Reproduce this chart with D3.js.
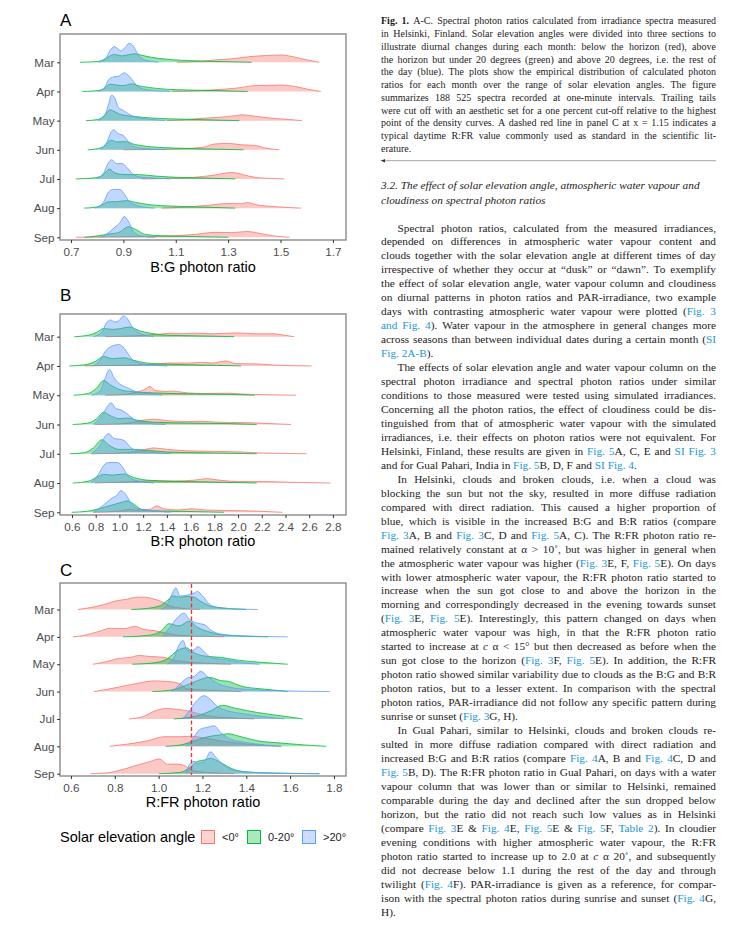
<!DOCTYPE html>
<html><head><meta charset="utf-8">
<script src="https://cdn.jsdelivr.net/npm/d3@7"></script>
<style>body{margin:0;background:#fff}</style>
</head><body>
<svg id="c" width="737" height="948" xmlns="http://www.w3.org/2000/svg"></svg>
<script>
// ---------------- DATA ----------------
const months = ["Mar","Apr","May","Jun","Jul","Aug","Sep"];
const groups = ["<0°","0-20°",">20°"];
const legendTitle = "Solar elevation angle";
const panelLabels = ["A","B","C"];
const axisTitles = ["B:G photon ratio","B:R photon ratio","R:FR photon ratio"];
const ticksA = [0.7,0.9,1.1,1.3,1.5,1.7];
const ticksB = [0.6,0.8,1.0,1.2,1.4,1.6,1.8,2.0,2.2,2.4,2.6,2.8];
const ticksC = [0.6,0.8,1.0,1.2,1.4,1.6,1.8];
const refRFR = 1.15;
// densities: [ratio, scaled density] per month (Mar..Sep)
const bgBelow0 = [
 [[1.104,0],[1.148,.01],[1.2,.04],[1.25,.08],[1.314,.12],[1.378,.19],[1.441,.23],[1.505,.25],[1.531,.22],[1.569,.15],[1.607,.07],[1.648,0]],
 [[1.085,0],[1.174,.02],[1.25,.06],[1.327,.11],[1.403,.2],[1.454,.21],[1.505,.22],[1.556,.17],[1.607,.07],[1.654,0]],
 [[1.066,0],[1.148,.04],[1.2,.08],[1.276,.12],[1.327,.17],[1.352,.2],[1.403,.15],[1.48,.07],[1.531,.04],[1.582,0]],
 [[0.9,0],[1.021,.01],[1.123,.04],[1.2,.08],[1.25,.2],[1.301,.22],[1.352,.17],[1.403,.15],[1.441,.06],[1.496,0]],
 [[0.97,0],[1.085,.02],[1.174,.06],[1.238,.12],[1.314,.22],[1.333,.2],[1.378,.1],[1.416,.04],[1.454,.02],[1.515,0]],
 [[1.046,0],[1.148,.04],[1.225,.1],[1.301,.16],[1.352,.15],[1.371,.19],[1.416,.1],[1.48,.05],[1.578,0]],
 [[0.718,0],[0.792,.01],[0.957,.02],[1.085,.05],[1.174,.1],[1.25,.17],[1.314,.16],[1.371,.2],[1.429,.12],[1.48,.04],[1.534,0]]
];
const bg0to20 = [
 [[0.734,0],[0.804,.03],[0.83,.12],[0.849,.22],[0.866,.27],[0.894,.22],[0.919,.26],[0.945,.29],[0.97,.24],[1.008,.17],[1.059,.11],[1.123,.07],[1.2,.04],[1.301,.02],[1.39,0]],
 [[0.743,0],[0.804,.03],[0.83,.12],[0.849,.25],[0.875,.22],[0.9,.2],[0.932,.26],[0.957,.2],[0.996,.14],[1.059,.08],[1.148,.05],[1.25,.03],[1.375,0]],
 [[0.757,0],[0.804,.04],[0.83,.2],[0.849,.37],[0.868,.3],[0.894,.2],[0.945,.14],[1.008,.09],[1.085,.06],[1.174,.04],[1.25,.02],[1.343,0]],
 [[0.764,0],[0.804,.04],[0.83,.15],[0.852,.33],[0.875,.27],[0.906,.28],[0.945,.18],[1.008,.1],[1.097,.06],[1.212,.03],[1.359,0]],
 [[0.718,0],[0.792,.04],[0.824,.15],[0.847,.34],[0.868,.2],[0.906,.15],[0.957,.15],[1.021,.1],[1.123,.05],[1.212,.03],[1.327,0]],
 [[0.75,0],[0.798,.04],[0.824,.14],[0.843,.22],[0.875,.22],[0.913,.26],[0.945,.2],[1.008,.11],[1.085,.07],[1.187,.04],[1.327,0]],
 [[0.751,0],[0.804,.05],[0.849,.12],[0.881,.16],[0.919,.36],[0.945,.28],[0.983,.1],[1.046,.05],[1.148,.03],[1.301,0]]
];
const bgAbove20 = [
 [[0.804,0],[0.83,.1],[0.849,.4],[0.866,.54],[0.881,.45],[0.89,.39],[0.906,.5],[0.922,.65],[0.938,.55],[0.957,.25],[0.976,.1],[1.002,.04],[1.034,0]],
 [[0.804,0],[0.83,.15],[0.843,.4],[0.862,.5],[0.881,.52],[0.904,.64],[0.919,.55],[0.938,.35],[0.957,.15],[0.996,.05],[1.078,0]],
 [[0.804,0],[0.83,.2],[0.843,.55],[0.855,.87],[0.866,.8],[0.881,.45],[0.9,.35],[0.925,.2],[0.957,.1],[1.008,.04],[1.059,0]],
 [[0.811,0],[0.836,.25],[0.853,.6],[0.862,.69],[0.881,.55],[0.9,.49],[0.913,.35],[0.938,.12],[0.97,.05],[1.008,.03],[1.059,0]],
 [[0.798,0],[0.824,.2],[0.843,.55],[0.855,.66],[0.875,.52],[0.894,.53],[0.913,.4],[0.938,.15],[0.97,.06],[1.021,.03],[1.078,0]],
 [[0.792,0],[0.824,.2],[0.843,.55],[0.862,.64],[0.887,.64],[0.906,.45],[0.925,.2],[0.957,.08],[1.018,0]],
 [[0.817,0],[0.849,.2],[0.868,.35],[0.887,.5],[0.903,.71],[0.919,.55],[0.938,.2],[0.957,.08],[0.989,.02],[1.021,0]]
];
const brBelow0 = [
 [[0.881,0],[1.142,.03],[1.258,.06],[1.374,.1],[1.432,.12],[1.519,.1],[1.635,.12],[1.78,.1],[1.997,.13],[2.157,.1],[2.301,.1],[2.39,.05],[2.475,0]],
 [[0.707,0],[0.997,.02],[1.287,.05],[1.403,.1],[1.577,.1],[1.693,.12],[1.78,.1],[1.896,.17],[1.983,.08],[2.157,.07],[2.301,.03],[2.62,0]],
 [[0.881,0],[1.055,.03],[1.142,.1],[1.214,.2],[1.258,.3],[1.301,.16],[1.403,.13],[1.446,.14],[1.577,.08],[1.722,.06],[1.925,.07],[2.041,.04],[2.214,.02],[2.49,0]],
 [[0.794,0],[0.997,.02],[1.113,.07],[1.2,.15],[1.287,.18],[1.403,.13],[1.577,.1],[1.693,.11],[1.809,.08],[1.925,.07],[2.099,.06],[2.272,.03],[2.446,0]],
 [[0.765,0],[0.997,.02],[1.142,.08],[1.229,.16],[1.287,.2],[1.403,.15],[1.577,.1],[1.809,.08],[2.041,.06],[2.214,.02],[2.388,.01],[2.577,0]],
 [[0.794,0],[0.91,.02],[1.142,.05],[1.287,.08],[1.461,.07],[1.635,.1],[1.736,.15],[1.838,.1],[2.012,.05],[2.214,.05],[2.39,.03],[2.78,0]],
 [[0.78,0],[0.997,.04],[1.084,.1],[1.128,.08],[1.258,.1],[1.316,.22],[1.374,.12],[1.49,.08],[1.606,.12],[1.722,.08],[1.925,.06],[2.157,.04],[2.374,0]]
];
const br0to20 = [
 [[0.62,0],[0.736,.05],[0.809,.15],[0.867,.28],[0.939,.25],[1.012,.28],[1.084,.33],[1.171,.2],[1.258,.12],[1.403,.05],[1.635,.03],[1.968,0]],
 [[0.577,0],[0.707,.04],[0.794,.15],[0.867,.32],[0.939,.25],[1.041,.28],[1.113,.2],[1.229,.1],[1.403,.06],[1.722,.03],[2.026,0]],
 [[0.612,0],[0.736,.06],[0.809,.25],[0.867,.5],[0.925,.35],[0.997,.2],[1.113,.12],[1.287,.08],[1.577,.05],[1.925,.03],[2.142,0]],
 [[0.606,0],[0.736,.05],[0.809,.2],[0.867,.42],[0.925,.3],[0.997,.2],[1.07,.22],[1.142,.15],[1.287,.08],[1.577,.05],[1.925,.03],[2.157,0]],
 [[0.583,0],[0.707,.04],[0.78,.2],[0.852,.48],[0.91,.3],[0.997,.15],[1.113,.15],[1.229,.12],[1.403,.06],[1.722,.03],[2.157,0]],
 [[0.606,0],[0.736,.06],[0.809,.2],[0.867,.3],[0.939,.27],[1.041,.31],[1.113,.2],[1.229,.1],[1.432,.06],[1.722,.04],[2.157,0]],
 [[0.597,0],[0.736,.04],[0.852,.15],[0.939,.25],[1.026,.35],[1.061,.39],[1.113,.3],[1.186,.1],[1.287,.05],[1.577,.03],[1.881,0]]
];
const brAbove20 = [
 [[0.78,0],[0.852,.15],[0.887,.45],[0.925,.57],[0.962,.5],[0.997,.55],[1.032,.71],[1.07,.6],[1.113,.3],[1.157,.15],[1.214,.06],[1.287,0]],
 [[0.78,0],[0.838,.2],[0.881,.5],[0.939,.68],[0.997,.73],[1.041,.6],[1.084,.35],[1.128,.15],[1.229,.05],[1.403,0]],
 [[0.765,0],[0.838,.15],[0.881,.6],[0.916,.88],[0.954,.6],[0.997,.4],[1.07,.25],[1.142,.12],[1.258,.05],[1.359,0]],
 [[0.78,0],[0.852,.3],[0.896,.6],[0.93,.74],[0.968,.55],[1.012,.5],[1.055,.4],[1.113,.2],[1.2,.06],[1.388,0]],
 [[0.765,0],[0.838,.3],[0.881,.6],[0.91,.69],[0.954,.52],[0.997,.5],[1.041,.45],[1.099,.2],[1.171,.1],[1.432,0]],
 [[0.759,0],[0.823,.3],[0.867,.6],[0.91,.7],[0.983,.7],[1.026,.55],[1.07,.25],[1.128,.1],[1.287,0]],
 [[0.78,0],[0.852,.2],[0.925,.45],[0.983,.6],[1.012,.74],[1.055,.6],[1.099,.3],[1.157,.12],[1.258,.06],[1.432,0]]
];
const rfrBelow0 = [
 [[0.631,0],[0.689,.07],[0.75,.18],[0.803,.31],[0.856,.38],[0.902,.45],[0.933,.45],[0.979,.38],[1.009,.3],[1.055,.12],[1.101,.05],[1.188,0]],
 [[0.609,0],[0.658,.05],[0.719,.18],[0.78,.31],[0.841,.3],[0.895,.38],[0.933,.27],[0.979,.23],[1.024,.15],[1.101,.05],[1.208,.02],[1.299,0]],
 [[0.701,0],[0.765,.1],[0.811,.2],[0.872,.25],[0.91,.32],[0.963,.28],[1.024,.25],[1.07,.15],[1.131,.08],[1.208,.04],[1.33,0]],
 [[0.704,0],[0.765,.08],[0.826,.18],[0.902,.3],[0.979,.39],[1.04,.37],[1.093,.3],[1.131,.1],[1.208,.06],[1.284,.03],[1.376,0]],
 [[0.864,0],[0.933,.1],[0.979,.28],[1.032,.38],[1.086,.35],[1.131,.3],[1.177,.2],[1.238,.1],[1.33,.04],[1.437,0]],
 [[0.777,0],[0.856,.08],[0.948,.2],[1.024,.35],[1.101,.35],[1.147,.37],[1.208,.3],[1.284,.2],[1.376,.1],[1.467,.04],[1.559,0]],
 [[0.689,0],[0.765,.03],[0.856,.2],[0.918,.35],[0.963,.45],[1.002,.54],[1.04,.35],[1.086,.35],[1.116,.3],[1.162,.1],[1.238,.04],[1.345,0]]
];
const rfr0to20 = [
 [[0.875,0],[0.948,.04],[1.009,.15],[1.047,.38],[1.063,.5],[1.101,.45],[1.131,.48],[1.162,.45],[1.192,.3],[1.238,.12],[1.284,.06],[1.398,0]],
 [[0.837,0],[0.948,.05],[1.009,.2],[1.047,.48],[1.093,.4],[1.139,.57],[1.177,.35],[1.223,.2],[1.284,.08],[1.376,.03],[1.498,0]],
 [[0.879,0],[0.979,.05],[1.04,.2],[1.086,.5],[1.127,.6],[1.154,.45],[1.208,.3],[1.284,.25],[1.36,.15],[1.467,.07],[1.589,0]],
 [[0.971,0],[1.055,.05],[1.116,.2],[1.177,.4],[1.231,.52],[1.284,.4],[1.315,.38],[1.376,.2],[1.467,.1],[1.559,.03],[1.589,0]],
 [[1.07,0],[1.131,.05],[1.192,.15],[1.238,.3],[1.292,.5],[1.345,.4],[1.406,.3],[1.498,.18],[1.589,.08],[1.658,0]],
 [[1.032,0],[1.101,.05],[1.162,.2],[1.223,.35],[1.284,.42],[1.315,.46],[1.376,.35],[1.452,.2],[1.559,.12],[1.666,.05],[1.765,0]],
 [[1.002,0],[1.101,.05],[1.139,.2],[1.177,.45],[1.208,.5],[1.238,.56],[1.284,.4],[1.345,.15],[1.406,.06],[1.513,.02],[1.734,0]]
];
const rfrAbove20 = [
 [[1.012,0],[1.04,.2],[1.063,.6],[1.078,.79],[1.098,.5],[1.116,.5],[1.139,.55],[1.162,.6],[1.177,.66],[1.2,.5],[1.231,.2],[1.269,.08],[1.345,.03],[1.452,0]],
 [[1.017,0],[1.047,.3],[1.086,.7],[1.116,.87],[1.139,.65],[1.177,.5],[1.208,.45],[1.238,.25],[1.284,.1],[1.376,.04],[1.589,0]],
 [[1.04,0],[1.07,.25],[1.093,.7],[1.111,.87],[1.131,.5],[1.154,.5],[1.18,.64],[1.208,.45],[1.238,.25],[1.315,.15],[1.391,.05],[1.46,0]],
 [[1.063,0],[1.101,.3],[1.131,.5],[1.162,.55],[1.192,.74],[1.223,.55],[1.269,.3],[1.33,.15],[1.406,.08],[1.559,.03],[1.78,0]],
 [[1.108,0],[1.131,.2],[1.162,.55],[1.208,.85],[1.238,.7],[1.269,.45],[1.315,.3],[1.376,.2],[1.467,.1],[1.574,0]],
 [[1.124,0],[1.154,.25],[1.185,.6],[1.223,.7],[1.253,.75],[1.284,.5],[1.33,.25],[1.391,.15],[1.483,.05],[1.559,0]],
 [[1.124,0],[1.147,.4],[1.162,.45],[1.18,.38],[1.208,.45],[1.238,.8],[1.261,.6],[1.299,.3],[1.36,.1],[1.467,.04],[1.734,0]]
];

// ---------------- TEXT ----------------
// markup: {..}=link colour, *..*=bold, _.._=italic
const captionLines = [
 "*Fig. 1.* A-C. Spectral photon ratios calculated from irradiance spectra measured",
 "in Helsinki, Finland. Solar elevation angles were divided into three sections to",
 "illustrate diurnal changes during each month: below the horizon (red), above",
 "the horizon but under 20 degrees (green) and above 20 degrees, i.e. the rest of",
 "the day (blue). The plots show the empirical distribution of calculated photon",
 "ratios for each month over the range of solar elevation angles. The figure",
 "summarizes 188 525 spectra recorded at one-minute intervals. Trailing tails",
 "were cut off with an aesthetic set for a one percent cut-off relative to the highest",
 "point of the density curves. A dashed red line in panel C at x = 1.15 indicates a",
 "typical daytime R:FR value commonly used as standard in the scientific lit-",
 "erature."
];
const headingLines = [
 "3.2. The effect of solar elevation angle, atmospheric water vapour and",
 "cloudiness on spectral photon ratios"
];
const bodyParagraphs = [
 ["Spectral photon ratios, calculated from the measured irradiances,",
  "depended on differences in atmospheric water vapour content and",
  "clouds together with the solar elevation angle at different times of day",
  "irrespective of whether they occur at \u201cdusk\u201d or \u201cdawn\u201d. To exemplify",
  "the effect of solar elevation angle, water vapour column and cloudiness",
  "on diurnal patterns in photon ratios and PAR-irradiance, two example",
  "days with contrasting atmospheric water vapour were plotted ({Fig. 3}",
  "{and Fig. 4}). Water vapour in the atmosphere in general changes more",
  "across seasons than between individual dates during a certain month ({SI}",
  "{Fig. 2A-B})."],
 ["The effects of solar elevation angle and water vapour column on the",
  "spectral photon irradiance and spectral photon ratios under similar",
  "conditions to those measured were tested using simulated irradiances.",
  "Concerning all the photon ratios, the effect of cloudiness could be dis-",
  "tinguished from that of atmospheric water vapour with the simulated",
  "irradiances, i.e. their effects on photon ratios were not equivalent. For",
  "Helsinki, Finland, these results are given in {Fig. 5}A, C, E and {SI Fig. 3}",
  "and for Gual Pahari, India in {Fig. 5}B, D, F and {SI Fig. 4}."],
 ["In Helsinki, clouds and broken clouds, i.e. when a cloud was",
  "blocking the sun but not the sky, resulted in more diffuse radiation",
  "compared with direct radiation. This caused a higher proportion of",
  "blue, which is visible in the increased B:G and B:R ratios (compare",
  "{Fig. 3}A, B and {Fig. 3}C, D and {Fig. 5}A, C). The R:FR photon ratio re-",
  "mained relatively constant at \u03b1 > 10\u02da, but was higher in general when",
  "the atmospheric water vapour was higher ({Fig. 3}E, F, {Fig. 5}E). On days",
  "with lower atmospheric water vapour, the R:FR photon ratio started to",
  "increase when the sun got close to and above the horizon in the",
  "morning and correspondingly decreased in the evening towards sunset",
  "({Fig. 3}E, {Fig. 5}E). Interestingly, this pattern changed on days when",
  "atmospheric water vapour was high, in that the R:FR photon ratio",
  "started to increase at _c_ \u03b1 < 15\u00b0 but then decreased as before when the",
  "sun got close to the horizon ({Fig. 3}F, {Fig. 5}E). In addition, the R:FR",
  "photon ratio showed similar variability due to clouds as the B:G and B:R",
  "photon ratios, but to a lesser extent. In comparison with the spectral",
  "photon ratios, PAR-irradiance did not follow any specific pattern during",
  "sunrise or sunset ({Fig. 3}G, H)."],
 ["In Gual Pahari, similar to Helsinki, clouds and broken clouds re-",
  "sulted in more diffuse radiation compared with direct radiation and",
  "increased B:G and B:R ratios (compare {Fig. 4}A, B and {Fig. 4}C, D and",
  "{Fig. 5}B, D). The R:FR photon ratio in Gual Pahari, on days with a water",
  "vapour column that was lower than or similar to Helsinki, remained",
  "comparable during the day and declined after the sun dropped below",
  "horizon, but the ratio did not reach such low values as in Helsinki",
  "(compare {Fig. 3}E & {Fig. 4}E, {Fig. 5}E & {Fig. 5}F, {Table 2}). In cloudier",
  "evening conditions with higher atmospheric water vapour, the R:FR",
  "photon ratio started to increase up to 2.0 at _c_ \u03b1 20\u02da, and subsequently",
  "did not decrease below 1.1 during the rest of the day and through",
  "twilight ({Fig. 4}F). PAR-irradiance is given as a reference, for compar-",
  "ison with the spectral photon ratios during sunrise and sunset ({Fig. 4}G,",
  "H)."]
];

// ---------------- DRAW ----------------
const svg = d3.select("#c");
const colors = ["#F8766D","#00BA38","#619CFF"];
const refColor = "#FF2B2B";
const sans = "'Liberation Sans', Arial, sans-serif";
const serif = "'Liberation Serif', 'Times New Roman', serif";
const plotL = 60, plotR = 346;
const fillOp = 0.4;

const panels = [
 {label:panelLabels[0], title:axisTitles[0], ticks:ticksA, series:[bgBelow0,bg0to20,bgAbove20],
  xDomain:[0.658,1.750], top:34, bottom:240, firstRow:62.3, lastRow:237.3, labelY:26, titleY:272},
 {label:panelLabels[1], title:axisTitles[1], ticks:ticksB, series:[brBelow0,br0to20,brAbove20],
  xDomain:[0.499,2.91], top:314, bottom:515, firstRow:336.7, lastRow:512.3, labelY:301, titleY:545.5},
 {label:panelLabels[2], title:axisTitles[2], ticks:ticksC, series:[rfrBelow0,rfr0to20,rfrAbove20],
  xDomain:[0.55,1.855], top:583, bottom:776, firstRow:609.5, lastRow:773.7, labelY:576, titleY:806.5, ref:refRFR}
];

panels.forEach((p,pi)=>{
  const x = d3.scaleLinear().domain(p.xDomain).range([plotL,plotR]);
  const yRow = d3.scalePoint().domain(months).range([p.firstRow,p.lastRow]);
  const hScale = d3.scaleLinear().domain([0,1]).range([0,(p.lastRow-p.firstRow)/(months.length-1)]);
  const clipId = "clip"+pi;
  svg.append("clipPath").attr("id",clipId).append("rect")
    .attr("x",plotL).attr("y",p.top).attr("width",plotR-plotL).attr("height",p.bottom-p.top);
  const g = svg.append("g").attr("clip-path",`url(#${clipId})`);
  months.forEach((m,mi)=>{
    const base = yRow(m);
    p.series.forEach((s,k)=>{
      const pts = s[mi];
      const area = d3.area().x(d=>x(d[0])).y0(base).y1(d=>base-hScale(d[1])).curve(d3.curveMonotoneX);
      const line = d3.line().x(d=>x(d[0])).y(d=>base-hScale(d[1])).curve(d3.curveMonotoneX);
      g.append("path").attr("d",area(pts)).attr("fill",colors[k]).attr("fill-opacity",fillOp);
      g.append("path").attr("d",line(pts)).attr("fill","none").attr("stroke",colors[k]).attr("stroke-width",0.8);
    });
  });
  // border
  svg.append("rect").attr("x",plotL).attr("y",p.top).attr("width",plotR-plotL).attr("height",p.bottom-p.top)
    .attr("fill","none").attr("stroke","#8a8a8a").attr("stroke-width",1.4);
  if (p.ref !== undefined) {
    const xr = Math.round(x(p.ref)) + 0.5;
    svg.append("path").attr("d",`M${xr},${p.top+1}V${p.bottom-1}`)
      .style("stroke",refColor).style("stroke-width","1.3px").style("stroke-dasharray","4,2.5").style("fill","none");
  }
  // x axis
  const xa = svg.append("g").attr("transform",`translate(0,${p.bottom})`)
    .call(d3.axisBottom(x).tickValues(p.ticks).tickFormat(d3.format(".1f")).tickSize(3).tickPadding(4.5));
  xa.select(".domain").remove();
  xa.selectAll(".tick line").attr("stroke","#333").attr("stroke-width",1);
  xa.selectAll(".tick text").attr("fill","#4d4d4d").style("font-family",sans).style("font-size","11.7px");
  // y axis
  const ya = svg.append("g").attr("transform",`translate(${plotL},0)`)
    .call(d3.axisLeft(yRow).tickSize(3).tickPadding(2.5));
  ya.select(".domain").remove();
  ya.selectAll(".tick line").attr("stroke","#333").attr("stroke-width",1);
  ya.selectAll(".tick text").attr("fill","#4d4d4d").style("font-family",sans).style("font-size","11.7px");
  // labels
  svg.append("text").attr("x",plotL).attr("y",p.labelY).text(p.label)
    .style("font-family",sans).style("font-size","17px").attr("fill","#000");
  svg.append("text").attr("x",(plotL+plotR)/2).attr("y",p.titleY).attr("text-anchor","middle").text(p.title)
    .style("font-family",sans).style("font-size","14.5px").attr("fill","#000");
});

// legend
const lg = svg.append("g");
lg.append("text").attr("x",60).attr("y",841.5).text(legendTitle)
  .style("font-family",sans).style("font-size","14.5px");
const legX = [201,247,302];
groups.forEach((gname,k)=>{
  lg.append("rect").attr("x",legX[k]+0.5).attr("y",830.5).attr("width",13).attr("height",13)
    .attr("fill",colors[k]).attr("fill-opacity",0.33).attr("stroke",colors[k]).attr("stroke-width",1);
  lg.append("text").attr("x",legX[k]+21).attr("y",840.5).text(gname)
    .style("font-family",sans).style("font-size","11px").attr("fill","#222");
});

// ---------- text column ----------
const colL = 381, colR = 716;
function parseRuns(str){
  const runs=[]; let st={link:false,bold:false,ital:false}; let buf="";
  for (const ch of str){
    if (ch==="{"||ch==="}"||ch==="*"||ch==="_"){
      if(buf){runs.push({t:buf,...st});buf="";}
      if(ch==="{")st={...st,link:true}; else if(ch==="}")st={...st,link:false};
      else if(ch==="*")st={...st,bold:!st.bold}; else st={...st,ital:!st.ital};
    } else buf+=ch;
  }
  if(buf)runs.push({t:buf,...st});
  return runs;
}
function toWords(runs){
  const words=[[]];
  runs.forEach(r=>{
    r.t.split(" ").forEach((part,i)=>{
      if(i>0) words.push([]);
      if(part) words[words.length-1].push({...r,t:part});
    });
  });
  return words.filter(w=>w.length);
}
function drawLine(str,x0,x1,y,size,justify,italicAll){
  const words = toWords(parseRuns(str));
  const g = svg.append("g");
  const nodes = words.map(w=>{
    const t = g.append("text").attr("y",y).style("font-family",serif).style("font-size",size+"px")
      .attr("fill","#1e1b1c");
    if (italicAll) t.style("font-style","italic");
    w.forEach(r=>{
      const ts = t.append("tspan").text(r.t);
      if(r.link) ts.attr("fill","#2196d3");
      if(r.bold) ts.style("font-weight","bold");
      if(r.ital) ts.style("font-style","italic");
    });
    return t;
  });
  const widths = nodes.map(n=>n.node().getComputedTextLength());
  const total = d3.sum(widths);
  const space = size*0.25;
  let gap = space;
  if (justify && nodes.length>1) gap = Math.max(1.2,(x1-x0-total)/(nodes.length-1));
  let cx = x0;
  nodes.forEach((n,i)=>{ n.attr("x",cx); cx += widths[i]+gap; });
}
// caption
captionLines.forEach((l,i)=>{
  drawLine(l,colL,colR,24.3+i*12.75,10,i<captionLines.length-1,false);
});
// separator
svg.append("line").attr("x1",colL).attr("x2",colR).attr("y1",160.7).attr("y2",160.7)
  .attr("stroke","#8c8c8c").attr("stroke-width",0.8);
svg.append("path").attr("d",`M${colL},160.7 l4,-1.8 l0,3.6 z`).attr("fill","#333");
// heading
headingLines.forEach((l,i)=>{
  drawLine(l,colL,colR,189+i*15,11.3,false,true);
});
// body
let lineIdx = 0;
bodyParagraphs.forEach(par=>{
  par.forEach((l,i)=>{
    const y = 231.5 + lineIdx*13.96;
    const x0 = i===0 ? 397.5 : colL;
    drawLine(l,x0,colR,y,11.3,i<par.length-1,false);
    lineIdx++;
  });
});
</script>
</body></html>
